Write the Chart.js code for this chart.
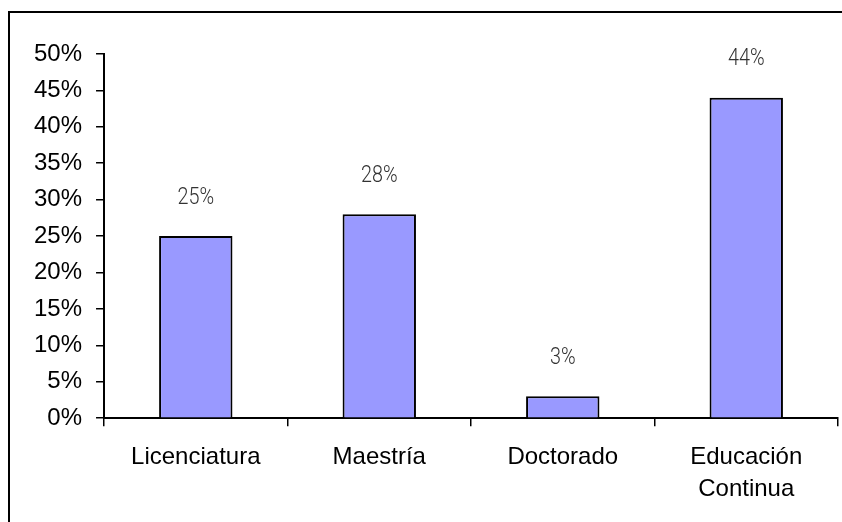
<!DOCTYPE html>
<html>
<head>
<meta charset="utf-8">
<script src="https://cdn.jsdelivr.net/npm/chart.js@4/dist/chart.umd.min.js"></script>
<style>
  html, body { margin: 0; padding: 0; background: #fff; }
  #wrap { width: 842px; height: 522px; }
</style>
</head>
<body>
<div id="wrap"><canvas id="niveles" width="842" height="522"></canvas></div>
<script>
const niveles = ['Licenciatura', 'Maestría', 'Doctorado', ['Educación', 'Continua']];
const porcentajes = [25, 28, 3, 44];
const escalaMax = 50;
const escalaPaso = 5;

// outer frame of the chart box (only top and left edges fall inside the canvas)
const marco = {
    id: 'marco',
    beforeDraw(chart) {
        const c = chart.ctx;
        c.save();
        c.strokeStyle = '#000';
        c.lineWidth = 2;
        c.beginPath();
        c.moveTo(9, chart.height);
        c.lineTo(9, 12);
        c.lineTo(chart.width, 12);
        c.stroke();
        c.restore();
    }
};

// percentage above every bar, thin and slightly condensed
const etiquetas = {
    id: 'etiquetas',
    afterDatasetsDraw(chart) {
        const c = chart.ctx;
        const meta = chart.getDatasetMeta(0);
        c.save();
        c.font = '300 23px Roboto, "Liberation Sans", sans-serif';
        c.fillStyle = '#333';
        c.textAlign = 'center';
        c.textBaseline = 'middle';
        meta.data.forEach((bar, i) => {
            c.save();
            c.translate(bar.x, bar.y - 38);
            c.scale(0.86, 1);
            c.fillText(porcentajes[i] + '%', 0, 0);
            c.restore();
        });
        c.restore();
    }
};

const ctx = document.getElementById('niveles').getContext('2d');
new Chart(ctx, {
    type: 'bar',
    data: {
        labels: niveles,
        datasets: [
            {
                data: porcentajes,
                backgroundColor: '#9999FF',
                borderColor: '#000',
                borderWidth: 2,
                barPercentage: 0.4,
                categoryPercentage: 1
            }
        ]
    },
    options: {
        responsive: false,
        animation: false,
        layout: { padding: { left: 20, right: 4, top: 54, bottom: 2 } },
        plugins: {
            legend: { display: false },
            tooltip: { enabled: false }
        },
        scales: {
            x: {
                grid: {
                    offset: true,
                    drawOnChartArea: false,
                    drawTicks: true,
                    tickLength: 8,
                    color: '#000',
                    lineWidth: 1.5
                },
                border: { display: true, color: '#000', width: 2 },
                ticks: {
                    color: '#000',
                    padding: 15,
                    maxRotation: 0,
                    font: { family: '"Liberation Sans", Arial, sans-serif', size: 24, lineHeight: 1.33 }
                }
            },
            y: {
                min: 0,
                max: escalaMax,
                grid: {
                    drawOnChartArea: false,
                    drawTicks: true,
                    tickLength: 8,
                    color: '#000',
                    lineWidth: 1.5
                },
                border: { display: true, color: '#000', width: 2 },
                ticks: {
                    stepSize: escalaPaso,
                    color: '#000',
                    padding: 14,
                    callback: v => v + '%',
                    font: { family: '"Liberation Sans", Arial, sans-serif', size: 24 }
                }
            }
        }
    },
    plugins: [marco, etiquetas]
});
</script>
</body>
</html>
